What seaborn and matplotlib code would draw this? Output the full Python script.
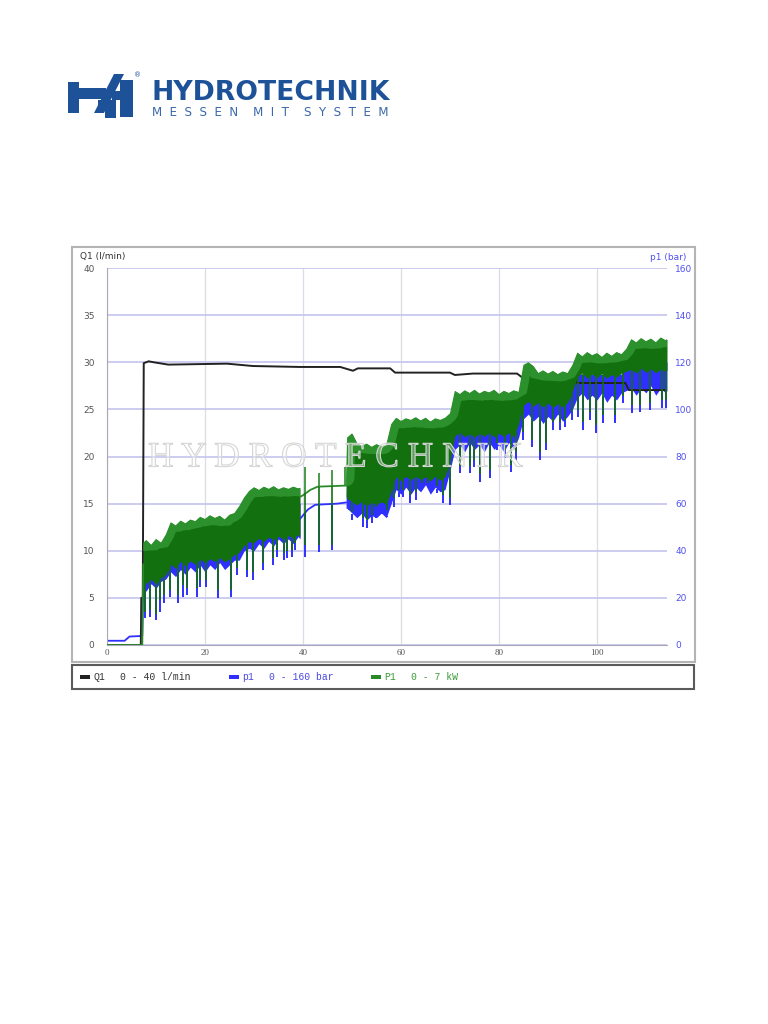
import numpy as np
import matplotlib
matplotlib.use("Agg")
import matplotlib.pyplot as plt
import seaborn as sns
from matplotlib import patheffects as pe
from matplotlib.patches import Rectangle, Polygon

# ---- data ----
# Q1 flow (l/min)
q_x = [0, 6.9, 7.0, 7.3, 7.5, 8.5, 9.5, 12.5, 24.5, 29.8, 39.4, 47.6, 50.2, 51.2, 57.8, 58.8,
       70.0, 71.0, 74.7, 83.7, 84.7, 95.0, 96.0, 105.8, 106.5, 114.3]
q_val = [0, 0, 5.0, 5.0, 29.9, 30.1, 30.0, 29.75, 29.85, 29.6, 29.5, 29.5, 29.1, 29.35, 29.35, 28.9,
         28.9, 28.65, 28.8, 28.8, 28.4, 28.4, 27.8, 27.8, 27.05, 27.05]

# p1 pressure (bar) and P1 power (kW) before the pump starts
p_start_x = [0, 3.6, 4.6, 6.8, 7.2, 7.4]
p_start = [1.8, 1.8, 3.6, 3.8, 4.0, 24.0]
P_start_x = [0, 7.2, 7.4]
P_start = [0, 0, 1.5]

# oscillating part 1: envelopes of the dense signal
b1_x = [7.4, 8, 9, 10, 11, 12, 13, 14, 15, 16, 17, 18, 19, 20, 21, 22, 23, 24, 25, 26, 27, 28,
        29, 30, 31, 32, 33, 34, 35, 36, 37, 38, 39, 39.4]
b1_P_top = [1.90, 1.95, 1.86, 1.97, 1.90, 2.05, 2.28, 2.22, 2.31, 2.26, 2.33, 2.30, 2.38, 2.34,
            2.41, 2.36, 2.40, 2.33, 2.42, 2.45, 2.58, 2.74, 2.86, 2.93, 2.88, 2.94, 2.90, 2.95,
            2.89, 2.93, 2.90, 2.94, 2.91, 2.92]
b1_P_low = [1.10, 1.15, 1.22, 1.12, 1.25, 1.30, 1.50, 1.42, 1.55, 1.47, 1.56, 1.50, 1.60, 1.52,
            1.60, 1.55, 1.62, 1.54, 1.60, 1.68, 1.72, 1.85, 1.92, 1.90, 1.98, 1.92, 2.00, 1.95,
            2.02, 1.96, 2.03, 1.98, 2.05, 2.00]
b1_p_top = [36, 38, 38, 38, 38, 40, 46, 46, 46, 46, 46, 46, 46, 46, 46, 46, 46, 46, 46, 50, 54,
            60, 60, 60, 60, 60, 60, 60, 60, 60, 60, 60, 60, 60]
b1_p_low = [22, 23, 26, 24, 27, 28, 31, 29, 32, 30, 33, 31, 34, 31, 34, 32, 35, 32, 34, 36, 36,
            40, 41, 40, 43, 41, 44, 42, 45, 43, 45, 43, 46, 45]

# quiet part between 39 and 49
d_P_x = [39.4, 40.0, 41.5, 43.0, 48.8]
d_P = [2.75, 2.78, 2.88, 2.94, 2.96]
d_p_x = [39.4, 40.0, 41.0, 42.5, 47.0, 48.8]
d_p = [53.5, 55.0, 57.5, 59.5, 60.0, 60.5]
up_x = [40.5, 43.3, 45.9, 48.5]
up_P = [3.31, 3.19, 3.25, 3.30]

# oscillating part 2
b2_x = [48.8, 49, 50, 51, 52, 53, 54, 55, 56, 57, 58, 59, 60, 61, 62, 63, 64, 65, 66, 67, 68, 69,
        70, 71, 72, 73, 74, 75, 76, 77, 78, 79, 80, 81, 82, 83, 84, 85, 86, 87, 88, 89, 90, 91,
        92, 93, 94, 95, 96, 97, 98, 99, 100, 101, 102, 103, 104, 105, 106, 107, 108, 109, 110,
        111, 112, 113, 114, 114.3]
b2_P_top = [3.10, 3.85, 3.93, 3.75, 3.70, 3.74, 3.68, 3.73, 3.69, 3.72, 4.10, 4.22, 4.16, 4.21,
            4.18, 4.23, 4.17, 4.22, 4.15, 4.21, 4.18, 4.22, 4.30, 4.72, 4.66, 4.73, 4.68, 4.74,
            4.67, 4.72, 4.69, 4.74, 4.66, 4.72, 4.68, 4.73, 4.70, 5.20, 5.25, 5.18, 5.05, 5.10,
            5.04, 5.09, 5.03, 5.08, 5.05, 5.20, 5.43, 5.36, 5.44, 5.38, 5.42, 5.35, 5.43, 5.37,
            5.44, 5.40, 5.50, 5.68, 5.62, 5.70, 5.64, 5.69, 5.62, 5.71, 5.66, 5.68]
b2_P_low = [2.75, 2.72, 2.66, 2.60, 2.66, 2.58, 2.65, 2.60, 2.67, 2.60, 2.85, 3.12, 3.05, 3.13,
            3.06, 3.14, 3.07, 3.12, 3.05, 3.13, 3.06, 3.12, 3.40, 3.88, 3.95, 3.86, 3.93, 3.85,
            3.94, 3.87, 3.95, 3.86, 3.93, 3.87, 3.94, 3.86, 4.10, 4.45, 4.52, 4.43, 4.50, 4.42,
            4.49, 4.41, 4.48, 4.42, 4.50, 4.70, 4.98, 5.05, 4.95, 5.03, 4.96, 5.04, 4.95, 5.02,
            4.97, 5.05, 5.08, 5.12, 5.05, 5.14, 5.06, 5.13, 5.05, 5.12, 5.08, 5.10]
b2_p_top = [62, 78, 78, 78, 78, 78, 78, 78, 78, 78, 82, 90, 90, 90, 90, 90, 90, 90, 90, 90, 90, 90,
            95, 100, 100, 100, 100, 100, 100, 100, 100, 100, 100, 100, 100, 100, 105, 108, 108,
            108, 108, 108, 108, 108, 108, 108, 108, 112, 115, 115, 115, 115, 115, 115, 115, 115,
            115, 115, 120, 120, 120, 120, 120, 120, 120, 120, 120, 120]
b2_p_low = [58, 58, 56, 54, 56, 53, 55, 54, 56, 54, 60, 66, 64, 67, 64, 67, 65, 68, 64, 67, 65, 66,
            74, 83, 85, 82, 86, 83, 85, 82, 86, 83, 85, 82, 86, 83, 88, 96, 98, 95, 97, 94, 97, 95,
            98, 95, 97, 100, 105, 107, 104, 106, 104, 107, 103, 106, 104, 107, 108, 109, 106, 109,
            107, 110, 106, 109, 107, 108]

# deep downward spikes: position, p1 minimum (bar), P1 minimum (kW)
spike_x = [7.8, 8.7, 9.9, 10.9, 11.7, 12.9, 14.4, 15.6, 16.3, 18.3, 19.0, 20.3, 22.7, 25.4, 26.5,
           28.5, 29.8, 31.8, 33.9, 34.6, 36.1, 36.8, 37.7, 38.4, 40.5, 43.3, 45.9, 49.3, 50.1, 51.1,
           52.2, 53.0, 54.0, 55.0, 56.1, 57.1, 58.6, 59.5, 60.5, 61.9, 63.0, 64.2, 65.6, 67.3, 68.6,
           70.0, 72.0, 74.0, 75.0, 76.1, 78.2, 79.5, 81.2, 82.5, 83.5, 85.0, 86.7, 88.4, 89.7, 91.1,
           92.4, 93.5, 94.9, 96.1, 97.2, 98.6, 99.9, 101.3, 103.6, 105.4, 107.1, 108.8, 110.9,
           113.2, 114.1]
spike_p = [11.5, 11.9, 10.6, 14.0, 17.8, 20.4, 17.8, 20.4, 21.2, 20.4, 24.6, 24.6, 19.9, 20.4, 29.7,
           28.9, 27.6, 31.8, 34.0, 37.3, 36.1, 36.9, 37.3, 40.3, 37.3, 39.5, 40.3, 58.1, 53.0, 57.3,
           50.1, 49.7, 51.8, 55.2, 57.3, 54.3, 58.6, 62.8, 62.8, 60.3, 61.5, 65.8, 65.8, 64.5, 60.3,
           59.4, 73.0, 73.0, 75.5, 69.2, 70.9, 82.8, 79.4, 73.4, 78.5, 87.0, 84.0, 78.5, 82.8, 91.2,
           91.2, 92.5, 95.5, 96.8, 91.2, 95.5, 90.0, 94.2, 94.2, 102.7, 98.5, 98.9, 99.7,
           100.6, 100.6]
spike_P = [0.61, 0.65, 0.58, 0.84, 0.93, 1.02, 0.93, 1.11, 1.06, 1.06, 1.21, 1.21, 1.02, 1.02, 1.43,
           1.39, 1.36, 1.52, 1.62, 1.76, 1.71, 1.75, 1.76, 1.89, 1.86, 1.86, 1.86, 2.69, 2.47, 2.64,
           2.36, 2.32, 2.41, 2.56, 2.64, 2.51, 2.73, 2.88, 2.88, 2.79, 2.84, 3.01, 3.01, 2.95, 2.79,
           2.73, 3.32, 3.32, 3.44, 3.18, 3.25, 3.75, 3.62, 3.34, 3.58, 3.95, 3.81, 3.58, 3.75, 4.14,
           4.14, 4.18, 4.33, 4.36, 4.14, 4.33, 4.09, 4.27, 4.27, 4.62, 4.46, 4.46, 4.49,
           4.55, 4.55]

q_ticks = [0, 5, 10, 15, 20, 25, 30, 35, 40]
p_ticks = [0, 20, 40, 60, 80, 100, 120, 140, 160]
x_ticks = [0, 20, 40, 60, 80, 100]

BLACK = "#222222"
BLUE = "#2f2fff"
GREEN_DARK = "#12700f"
GREEN_LIGHT = "#2c902c"
GREEN_LINE = "#2a8a2a"

W, H = 768, 1024
def fx(px):
    return px / W
def fy(py):
    return 1 - py / H

sns.set_style("white")
fig = plt.figure(figsize=(7.68, 10.24), dpi=100)

# ---- chart frames ----
fig.add_artist(Rectangle((fx(72), fy(662)), fx(695) - fx(72), fy(247) - fy(662),
                         transform=fig.transFigure, fill=False, ec="#b4b4b4", lw=1.5))
fig.add_artist(Rectangle((fx(72), fy(689)), fx(694) - fx(72), fy(665) - fy(689),
                         transform=fig.transFigure, fill=False, ec="#5a5a5a", lw=1.5))

ax = fig.add_axes([fx(107), fy(645), fx(667) - fx(107), fy(268) - fy(645)])
ax.set_zorder(1)
axq = ax.twinx()
axP = ax.twinx()
ax.patch.set_visible(False)

# pressure (bottom layer)
sns.lineplot(x=p_start_x, y=p_start, ax=ax, color=BLUE, lw=1.3, estimator=None, sort=False)
ax.fill_between(b1_x, b1_p_low, b1_p_top, color=BLUE, lw=0)
sns.lineplot(x=d_p_x, y=d_p, ax=ax, color=BLUE, lw=1.3, estimator=None, sort=False)
ax.fill_between(b2_x, b2_p_low, b2_p_top, color=BLUE, lw=0)
floor_x = b1_x + d_p_x + b2_x
floor_p = b1_p_low + d_p + b2_p_low
ax.vlines(spike_x, spike_p, np.interp(spike_x, floor_x, floor_p), color=BLUE, lw=1.4)

# flow
sns.lineplot(x=q_x, y=q_val, ax=axq, color=BLACK, lw=1.4, estimator=None, sort=False)

# power (top layer): dark core with a lighter rim along the upper envelope
sns.lineplot(x=P_start_x, y=P_start, ax=axP, color=GREEN_LINE, lw=1.3, estimator=None, sort=False)
sns.lineplot(x=d_P_x, y=d_P, ax=axP, color=GREEN_LINE, lw=1.3, estimator=None, sort=False)
for bx, lo, hi in [(b1_x, b1_P_low, b1_P_top), (b2_x, b2_P_low, b2_P_top)]:
    band = axP.fill_between(bx, lo, hi, color=GREEN_DARK, lw=0)
    sns.lineplot(x=bx, y=hi, ax=axP, color=GREEN_LIGHT, lw=12, estimator=None, sort=False,
                 solid_joinstyle="bevel")
    axP.lines[-1].set_clip_path(band.get_paths()[0], axP.transData)
floor_P = b1_P_low + d_P + b2_P_low
axP.vlines(spike_x, spike_P, np.interp(spike_x, b1_x + d_P_x + b2_x, floor_P), color=GREEN_DARK, lw=1.2)
axP.vlines(up_x, np.interp(up_x, d_P_x, d_P), up_P, color=GREEN_LINE, lw=1.2)

# ---- axes styling ----
ax.set_xlim(0, 114.3)
ax.set_ylim(0, 160)
axq.set_ylim(0, 40)
axP.set_ylim(0, 7)
ax.set_xticks(x_ticks)
ax.set_yticks(p_ticks)
axq.set_yticks(q_ticks)
axP.set_yticks([])
ax.yaxis.tick_right()
axq.yaxis.tick_left()
ax.grid(axis="y", color="#c8c8ef", lw=1.3)
ax.grid(axis="x", color="#dcdce6", lw=0.9)
ax.set_axisbelow(True)
for a in (ax, axq, axP):
    for s in a.spines.values():
        s.set_visible(False)
    a.set_xlabel("")
    a.set_ylabel("")
ax.spines["bottom"].set_visible(True)
ax.spines["bottom"].set_color("#a8a8b8")
axq.spines["left"].set_visible(True)
axq.spines["left"].set_color("#a8a8b8")
ax.tick_params(axis="x", length=0, pad=3, labelsize=6.5, labelcolor="#555555")
for lab in ax.get_xticklabels():
    lab.set_family("Liberation Serif")
ax.tick_params(axis="y", length=0, pad=6, labelsize=6.5, labelcolor="#5050f0")
axq.tick_params(axis="y", length=0, pad=9, labelsize=6.5, labelcolor="#555555")

fig.text(fx(80), fy(257), "Q1 (l/min)", fontsize=6.5, color="#333333", va="center")
fig.text(fx(686), fy(257), "p1 (bar)", fontsize=6.5, color="#5050f0", va="center", ha="right")

# watermark
fig.text(fx(148), fy(458), "H Y D R O T E C H N I K", family="Liberation Serif", fontsize=25.5,
         color=(1, 1, 1, 0.18), va="center", ha="left", zorder=10,
         path_effects=[pe.Stroke(linewidth=0.8, foreground="#d2d2d2"), pe.Normal()])

# ---- legend row ----
leg_items = [(80, "Q1", "0 - 40 l/min", BLACK, "#333333"),
             (229, "p1", "0 - 160 bar", BLUE, "#4a4ae0"),
             (371, "P1", "0 - 7 kW", GREEN_LINE, "#3a9a3a")]
for px, name, rng, col, tcol in leg_items:
    fig.add_artist(Rectangle((fx(px), fy(678.5)), fx(10), fy(675) - fy(678.5),
                             transform=fig.transFigure, color=col, lw=0))
    fig.text(fx(px + 13), fy(677), name, family="Liberation Mono", fontsize=7, color=tcol, va="center")
    fig.text(fx(px + 40), fy(677), rng, family="Liberation Mono", fontsize=7, color=tcol, va="center")

# ---- logo ----
LOGO = "#1d5299"
for poly in [
    [(68, 82), (79, 82), (79, 113), (68, 113)],
    [(68, 88), (106, 88), (106, 99), (68, 99)],
    [(94, 113), (104, 113), (124, 74), (114, 74)],
    [(98, 100), (116, 100), (116, 118), (105, 118), (105, 107), (98, 107)],
    [(120, 80), (133, 80), (133, 117), (120, 117)],
    [(112, 91), (133, 91), (133, 100), (112, 100)],
]:
    fig.add_artist(Polygon([(fx(a), fy(b)) for a, b in poly], closed=True,
                           transform=fig.transFigure, color=LOGO, lw=0))
fig.text(fx(134), fy(75), "®", fontsize=5, color=LOGO, va="center")
fig.text(fx(151), fy(100), "HYDROTECHNIK", family="DejaVu Sans", weight="bold", fontsize=19.2,
         color=LOGO, va="baseline")
fig.text(fx(152), fy(116), "M  E  S  S  E  N    M  I  T    S  Y  S  T  E  M", family="DejaVu Sans",
         fontsize=8.6, color="#3a68a8", va="baseline")

fig.savefig("out.png", dpi=100)
